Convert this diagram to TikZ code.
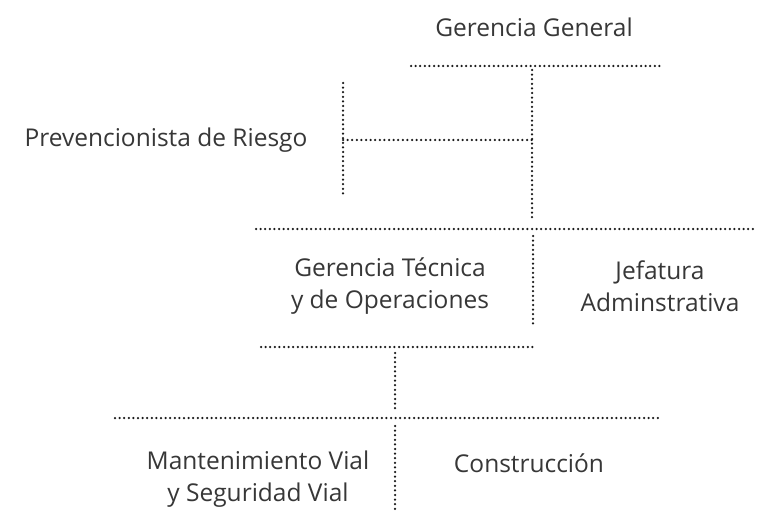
\documentclass[tikz,border=0pt]{standalone}
\usepackage{fontspec}
\setmainfont{Open Sans}
\usepackage{tikz}
\usepackage{color}
\definecolor{texto}{RGB}{55,55,55}
\tikzset{
	puntos/.style={line width=2.5pt, line cap=round, dash pattern=on 0pt off 4.6pt, black!90},
	cargo/.style={inner sep=0pt, text=texto, font=\fontsize{24.5}{32}\selectfont, align=center}
}
\begin{document}
\begin{tikzpicture}[x=1pt,y=-1pt]
					\useasboundingbox (0,0) rectangle (760,513);
					% cargos
					\node [cargo] (gg) at (534,27) {Gerencia General};
					\node [cargo] (pr) at (166,140) {Prevencionista de Riesgo};
					\node [cargo] (gt) at (390,286) {Gerencia T\'ecnica\\y de Operaciones};
					\node [cargo] (ja) at (660,286) {Jefatura\\Adminstrativa};
					\node [cargo] (mv) at (258,479) {Mantenimiento Vial\\y Seguridad Vial};
					\node [cargo] (co) at (529,463) {Construcci\'on};
					% puntos de las lineas
					\coordinate (l1a) at (411,66);
					\coordinate (l1b) at (660,66);
					\coordinate (v1a) at (532,70);
					\coordinate (v1b) at (532,218);
					\coordinate (bra) at (343,83);
					\coordinate (brb) at (343,197);
					\coordinate (brc) at (343,140);
					\coordinate (brd) at (532,140);
					\coordinate (l2a) at (256,229);
					\coordinate (l2b) at (757,229);
					\coordinate (v2a) at (533,236);
					\coordinate (v2b) at (533,325);
					\coordinate (l3a) at (261,347);
					\coordinate (l3b) at (535,347);
					\coordinate (v3a) at (395,353);
					\coordinate (v3b) at (395,410);
					\coordinate (l4a) at (115,418);
					\coordinate (l4b) at (658,418);
					\coordinate (v4a) at (395,426);
					\coordinate (v4b) at (395,511);
					% lineas
					\draw [puntos] (l1a) -- (l1b);
					\draw [puntos] (v1a) -- (v1b);
					\draw [puntos] (bra) -- (brb);
					\draw [puntos] (brc) -- (brd);
					\draw [puntos] (l2a) -- (l2b);
					\draw [puntos] (v2a) -- (v2b);
					\draw [puntos] (l3a) -- (l3b);
					\draw [puntos] (v3a) -- (v3b);
					\draw [puntos] (l4a) -- (l4b);
					\draw [puntos] (v4a) -- (v4b);
				\end{tikzpicture}
\end{document}
